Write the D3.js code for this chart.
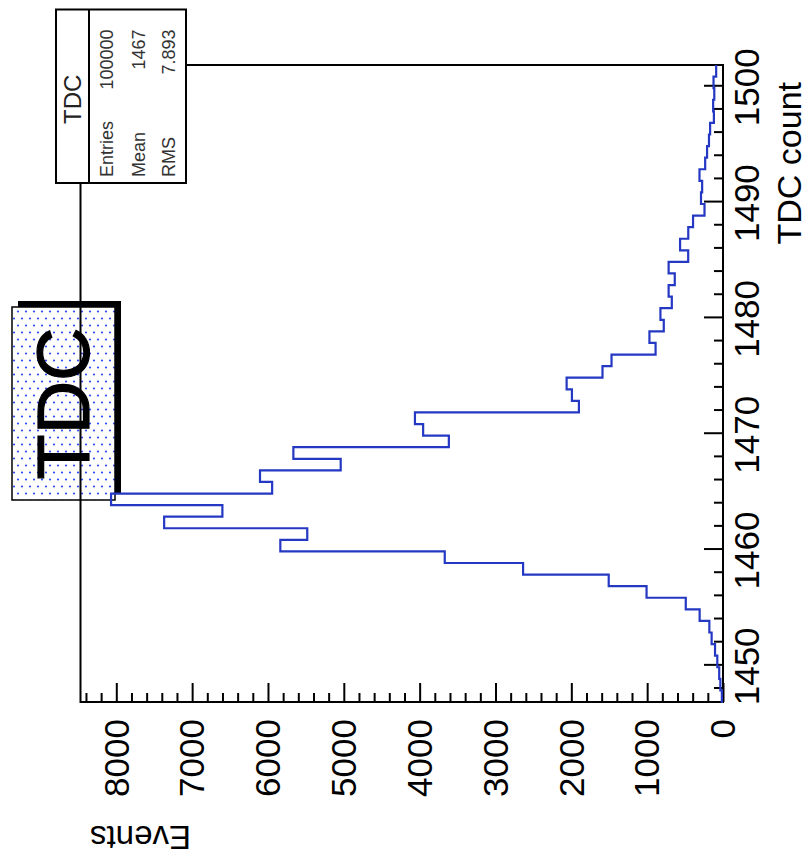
<!DOCTYPE html>
<html>
<head>
<meta charset="utf-8">
<script src="https://cdn.jsdelivr.net/npm/d3@7"></script>
<style>
  html, body { margin: 0; padding: 0; background: #ffffff; }
  svg { display: block; font-family: "Liberation Sans", Arial, Helvetica, sans-serif; }
</style>
</head>
<body>
<svg id="chart" width="811" height="856"></svg>
<script>
// ---------------- data ----------------
const tdcBins = [1447,1448,1449,1450,1451,1452,1453,1454,1455,1456,1457,1458,1459,1460,
  1461,1462,1463,1464,1465,1466,1467,1468,1469,1470,1471,1472,1473,1474,1475,1476,
  1477,1478,1479,1480,1481,1482,1483,1484,1485,1486,1487,1488,1489,1490,1491,1492,
  1493,1494,1495,1496,1497,1498,1499,1500,1501];
const events = [15,35,50,75,105,150,180,308,491,1008,1507,2636,3669,5837,
  5482,7369,6601,8069,5945,6105,5041,5665,3615,3954,4062,1900,1992,2062,1589,1470,
  889,970,781,825,675,717,636,717,459,566,458,395,244,290,275,310,
  235,210,185,170,120,130,115,125,90];
const tdcRange = [1446.75, 1501.75];   // histogram axis range
const binWidth = 1;
const eventsMax = 8472;                 // 1.05 * maximum

const tdcMajorTicks = [1450, 1460, 1470, 1480, 1490, 1500];
const tdcMinorTicks = [1448, 1452, 1454, 1456, 1458, 1462, 1464, 1466, 1468, 1472, 1474, 1476, 1478,
  1482, 1484, 1486, 1488, 1492, 1494, 1496, 1498];
const eventsMajorTicks = [0, 1000, 2000, 3000, 4000, 5000, 6000, 7000, 8000];
const eventsMinorTicks = [200,400,600,800,1200,1400,1600,1800,2200,2400,2600,2800,3200,3400,3600,3800,
  4200,4400,4600,4800,5200,5400,5600,5800,6200,6400,6600,6800,7200,7400,7600,7800,8200,8400];

const titleText = "TDC";
const xTitle = "TDC count";
const yTitle = "Events";
const statsName = "TDC";
const statsLabels = ["Entries", "Mean", "RMS"];
const statsValues = ["100000", "1467", "7.893"];

// ---------------- layout ----------------
const frame = { left: 80.5, right: 723, top: 65, bottom: 702 };
const svg = d3.select("#chart");

const vScale = d3.scaleLinear().domain([0, eventsMax]).range([frame.right, frame.left]);
const tScale = d3.scaleLinear().domain(tdcRange).range([frame.bottom, frame.top]);

const defs = svg.append("defs");
const pat = defs.append("pattern").attr("id", "dots")
  .attr("patternUnits", "userSpaceOnUse").attr("width", 8).attr("height", 14);
pat.append("rect").attr("width", 8).attr("height", 14).attr("fill", "#ffffff");
pat.append("circle").attr("cx", 2).attr("cy", 3.5).attr("r", 1.1).attr("fill", "#2f4df2");
pat.append("circle").attr("cx", 6).attr("cy", 10.5).attr("r", 1.1).attr("fill", "#2f4df2");

// ---------------- title box ----------------
const tb = { x: 12, y: 307, w: 103, h: 193, sh: 6 };
svg.append("rect").attr("x", tb.x + tb.sh).attr("y", tb.y - tb.sh)
  .attr("width", tb.w).attr("height", tb.h).attr("fill", "#000");
svg.append("rect").attr("x", tb.x).attr("y", tb.y).attr("width", tb.w).attr("height", tb.h)
  .attr("fill", "url(#dots)").attr("stroke", "#000").attr("stroke-width", 1.5);
svg.append("text")
  .attr("transform", `translate(${tb.x + tb.w / 2},${tb.y + tb.h / 2}) rotate(-90)`)
  .attr("text-anchor", "middle").attr("dy", "0.35em")
  .attr("font-size", 74).attr("stroke", "#000").attr("stroke-width", 1.2)
  .attr("fill", "#000").text(titleText);

// ---------------- axes ----------------
const gEv = svg.append("g").attr("transform", `translate(0,${frame.bottom})`);
gEv.call(d3.axisBottom(vScale).tickValues(eventsMajorTicks).tickSize(-19).tickSizeOuter(0).tickFormat(""));
const gEvMinor = svg.append("g").attr("transform", `translate(0,${frame.bottom})`);
gEvMinor.call(d3.axisBottom(vScale).tickValues(eventsMinorTicks).tickSize(-9).tickSizeOuter(0).tickFormat(""));

const gT = svg.append("g").attr("transform", `translate(${frame.right},0)`);
gT.call(d3.axisRight(tScale).tickValues(tdcMajorTicks).tickSize(-19).tickSizeOuter(0).tickFormat(""));
const gTMinor = svg.append("g").attr("transform", `translate(${frame.right},0)`);
gTMinor.call(d3.axisRight(tScale).tickValues(tdcMinorTicks).tickSize(-9).tickSizeOuter(0).tickFormat(""));

svg.selectAll(".domain").remove();
svg.selectAll(".tick line").attr("stroke", "#000").attr("stroke-width", 2);

svg.append("rect").attr("x", frame.left).attr("y", frame.top)
  .attr("width", frame.right - frame.left).attr("height", frame.bottom - frame.top)
  .attr("fill", "none").attr("stroke", "#000").attr("stroke-width", 2);

// Events tick labels
svg.append("g").selectAll("text").data(eventsMajorTicks).join("text")
  .attr("transform", d => `translate(${vScale(d)},719) rotate(-90)`)
  .attr("text-anchor", "end").attr("dy", "0.35em")
  .attr("font-size", 35).attr("fill", "#000").text(d => d);

// TDC tick labels
svg.append("g").selectAll("text").data(tdcMajorTicks).join("text")
  .attr("transform", d => `translate(747,${tScale(d) + 2}) rotate(-90)`)
  .attr("text-anchor", "middle").attr("dy", "0.35em")
  .attr("font-size", 35).attr("fill", "#000").text(d => d);

// axis titles
svg.append("text").attr("transform", "translate(801,82) rotate(-90)")
  .attr("text-anchor", "end").attr("font-size", 34).attr("fill", "#000").text(xTitle);
svg.append("text").attr("transform", "translate(90,826) rotate(180)")
  .attr("text-anchor", "end").attr("font-size", 33).attr("fill", "#000").text(yTitle);

// ---------------- histogram ----------------
const pts = [[vScale(0), tScale(tdcRange[0])]];
events.forEach((v, i) => {
  const lo = tdcRange[0] + i * binWidth, hi = lo + binWidth;
  pts.push([vScale(v), tScale(lo)]);
  pts.push([vScale(v), tScale(hi)]);
});
svg.append("path").attr("d", d3.line()(pts))
  .attr("fill", "none").attr("stroke", "#2438c4").attr("stroke-width", 2.2)
  .attr("stroke-linejoin", "miter");

// ---------------- stats box ----------------
const sb = { x: 56, y: 9.5, w: 130, h: 173.5, head: 33 };
svg.append("rect").attr("x", sb.x).attr("y", sb.y).attr("width", sb.w).attr("height", sb.h)
  .attr("fill", "#fff").attr("stroke", "#000").attr("stroke-width", 2);
svg.append("line").attr("x1", sb.x + sb.head).attr("x2", sb.x + sb.head)
  .attr("y1", sb.y).attr("y2", sb.y + sb.h).attr("stroke", "#000").attr("stroke-width", 2);
svg.append("text")
  .attr("transform", `translate(${sb.x + sb.head / 2},${sb.y + sb.h / 2 + 3}) rotate(-90)`)
  .attr("text-anchor", "middle").attr("dy", "0.35em")
  .attr("font-size", 24).attr("fill", "#222").text(statsName);
const rowX = [106.5, 139, 168.5];
statsLabels.forEach((lab, i) => {
  svg.append("text").attr("transform", `translate(${rowX[i]},${sb.y + sb.h - 6}) rotate(-90)`)
    .attr("text-anchor", "start").attr("dy", "0.35em")
    .attr("font-size", 18).attr("fill", "#333").text(lab);
  svg.append("text").attr("transform", `translate(${rowX[i]},${sb.y + 20}) rotate(-90)`)
    .attr("text-anchor", "end").attr("dy", "0.35em")
    .attr("font-size", 18).attr("fill", "#333").text(statsValues[i]);
});
</script>
</body>
</html>
